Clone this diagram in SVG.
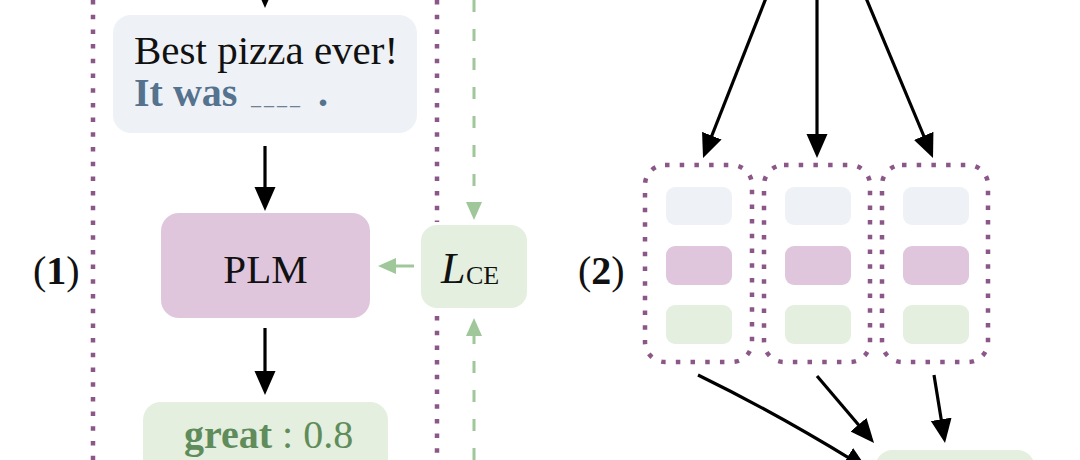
<svg xmlns="http://www.w3.org/2000/svg" width="1080" height="460" viewBox="0 0 1080 460">
  <style>
    .serif { font-family: "Liberation Serif", "Times New Roman", serif; }
    .dots { fill: none; stroke: #8a5788; stroke-width: 4.5; stroke-dasharray: 4.5 10.2; }
    .blk { fill: none; stroke: #000; stroke-width: 3.2; }
    .grn { fill: none; stroke: #9fc79a; stroke-width: 3; }
    .dash { stroke-dasharray: 12 17; }
    .blue { fill: #eef2f7; }
    .purp { fill: #dfc6dd; }
    .green { fill: #e4efdf; }
  </style>
  <defs>
    <marker id="ah" markerUnits="userSpaceOnUse" markerWidth="26" markerHeight="22" refX="17" refY="11" orient="auto">
      <path d="M0,0.5 L24,11 L0,21.5 z" fill="#000"/>
    </marker>
    <marker id="gh" markerUnits="userSpaceOnUse" markerWidth="20" markerHeight="18" refX="12" refY="8" orient="auto">
      <path d="M0,0 L18,8 L0,16 z" fill="#9fc79a"/>
    </marker>
  </defs>
  <rect width="1080" height="460" fill="#fff"/>

  <!-- panel (1) frame -->
  <g id="frame1">
    <line class="dots" x1="93" y1="0" x2="93" y2="460"/>
    <line class="dots" x1="437" y1="0" x2="437" y2="222"/>
    <line class="dots" x1="437" y1="316" x2="437" y2="460"/>
  </g>

  <g id="label1">
    <text class="serif" x="33" y="284" font-size="40" fill="#111">(<tspan font-weight="bold">1</tspan>)</text>
  </g>

  <g id="prompt">
    <rect class="blue" x="113" y="15" width="304" height="118" rx="18"/>
    <text class="serif" x="134" y="64" font-size="41" fill="#111">Best pizza ever!</text>
    <text class="serif" x="134" y="106" font-size="40" font-weight="bold" fill="#55728e">It was</text>
    <text class="serif" x="251" y="104" font-size="20" fill="#6f8093" letter-spacing="3">____</text>
    <text class="serif" x="318" y="106" font-size="40" font-weight="bold" fill="#55728e">.</text>
  </g>

  <g id="plm">
    <rect class="purp" x="161" y="213" width="209" height="105" rx="18"/>
    <text class="serif" x="265.5" y="283" font-size="41" text-anchor="middle" fill="#111">PLM</text>
  </g>

  <g id="lce">
    <rect class="green" x="421" y="225" width="106" height="83" rx="16"/>
    <text class="serif" x="441" y="283" font-size="44" font-style="italic" fill="#111">L</text>
    <text class="serif" x="466" y="284" font-size="26" fill="#111">CE</text>
  </g>

  <g id="great">
    <rect class="green" x="143" y="402" width="245" height="80" rx="18"/>
    <text class="serif" x="184" y="448" font-size="40" fill="#5f8c5a"><tspan font-weight="bold">great</tspan> : 0.8</text>
  </g>

  <!-- panel (2) -->
  <g id="label2">
    <text class="serif" x="578" y="284" font-size="40" fill="#111">(<tspan font-weight="bold">2</tspan>)</text>
  </g>

  <g id="group-a">
    <rect class="dots" x="645" y="165" width="107" height="197" rx="20"/>
    <rect class="blue" x="666" y="187" width="66" height="38" rx="9"/>
    <rect class="purp" x="666" y="246" width="66" height="39" rx="9"/>
    <rect class="green" x="666" y="305" width="66" height="39" rx="9"/>
  </g>
  <g id="group-b">
    <rect class="dots" x="764" y="165" width="106" height="197" rx="20"/>
    <rect class="blue" x="785" y="187" width="66" height="38" rx="9"/>
    <rect class="purp" x="785" y="246" width="66" height="39" rx="9"/>
    <rect class="green" x="785" y="305" width="66" height="39" rx="9"/>
  </g>
  <g id="group-c">
    <rect class="dots" x="882" y="165" width="106" height="197" rx="20"/>
    <rect class="blue" x="903" y="187" width="66" height="38" rx="9"/>
    <rect class="purp" x="903" y="246" width="66" height="39" rx="9"/>
    <rect class="green" x="903" y="305" width="66" height="39" rx="9"/>
  </g>

  <g id="result">
    <rect class="green" x="875" y="450" width="160" height="60" rx="18"/>
  </g>

  <g id="connectors">
    <line class="blk" x1="265" y1="-20" x2="265" y2="1" marker-end="url(#ah)"/>
    <line class="blk" x1="265" y1="146" x2="265" y2="204" marker-end="url(#ah)"/>
    <line class="blk" x1="265" y1="328" x2="265" y2="388" marker-end="url(#ah)"/>

    <line class="grn dash" x1="474" y1="0" x2="474" y2="214" marker-end="url(#gh)"/>
    <line class="grn dash" x1="474" y1="460" x2="474" y2="324" marker-end="url(#gh)"/>
    <line class="grn" x1="414" y1="266" x2="384" y2="266" marker-end="url(#gh)"/>

    <line class="blk" x1="766" y1="-2" x2="705.6" y2="151.5" marker-end="url(#ah)"/>
    <line class="blk" x1="817" y1="-2" x2="817" y2="151" marker-end="url(#ah)"/>
    <line class="blk" x1="866" y1="-2" x2="930.3" y2="151.5" marker-end="url(#ah)"/>

    <path class="blk" d="M698,375 Q778,414 862,466" marker-end="url(#ah)"/>
    <line class="blk" x1="817" y1="376" x2="869.5" y2="437.7" marker-end="url(#ah)"/>
    <line class="blk" x1="934" y1="375" x2="943.9" y2="436.1" marker-end="url(#ah)"/>
  </g>
</svg>
